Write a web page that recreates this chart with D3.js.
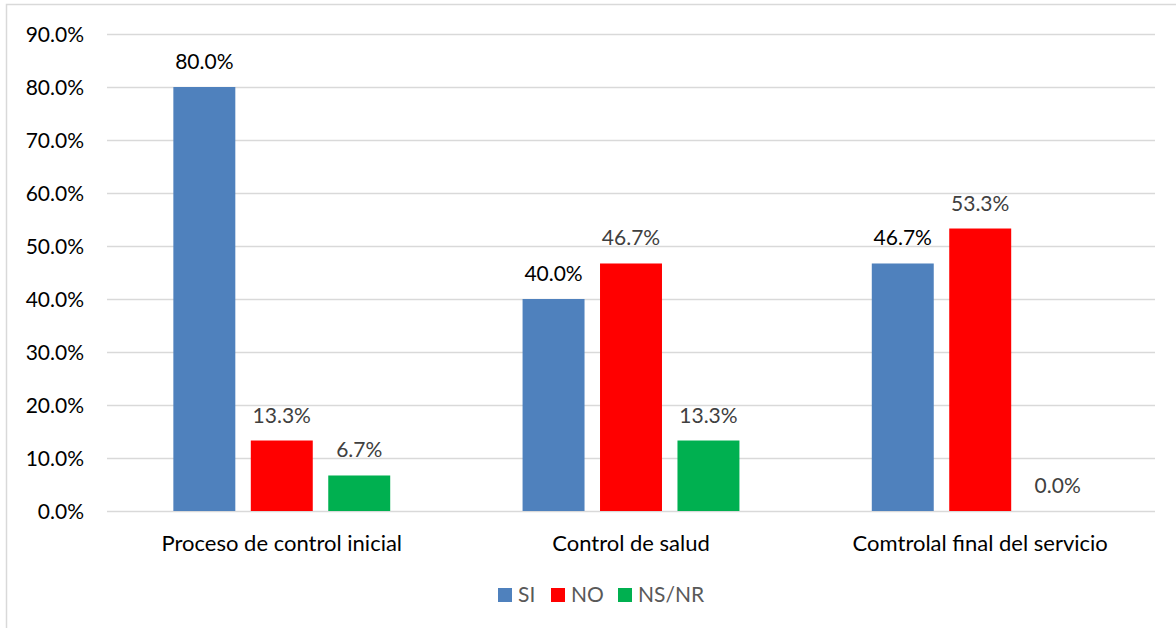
<!DOCTYPE html>
<html lang="es">
<head>
<meta charset="utf-8">
<title>chart</title>
<script src="https://d3js.org/d3.v7.min.js"></script>
<style>
  body{margin:0;background:#fff;font-family:Lato, "Open Sans", sans-serif;}
  svg{display:block;}
</style>
</head>
<body>
<div id="chart"></div>
<script>
// data
var categories = ["Proceso de control inicial", "Control de salud", "Comtrolal final del servicio"]
var series = ["SI", "NO", "NS/NR"]
var siValues = [80.0, 40.0, 46.7]
var noValues = [13.3, 46.7, 53.3]
var nsnrValues = [6.7, 13.3, 0.0]
var yTicks = [0, 10, 20, 30, 40, 50, 60, 70, 80, 90]
var colors = ["#4f81bd", "#ff0000", "#00b050"]
var labelColors = ["#000000", "#404040", "#404040"]

var w = 1176, h = 628
var plotLeft = 107, plotRight = 1155, plotTop = 34, plotBottom = 511
var fs = 21

var svg = d3.select("#chart").append("svg").attr("width", w).attr("height", h)

// outer chart border
svg.append("rect").attr("x", 6.5).attr("y", 4.5).attr("width", 1300).attr("height", 800)
  .attr("fill", "#fff").attr("stroke", "#d9d9d9").attr("stroke-width", 1.5)

var yScale = d3.scaleLinear().domain([0, 90]).range([plotBottom, plotTop])
var x0 = d3.scaleBand().domain(categories).range([plotLeft, plotRight]).paddingInner(0.379).paddingOuter(0.19)
var x1 = d3.scaleBand().domain(series).range([0, x0.bandwidth()]).paddingInner(0.2).paddingOuter(0)

// gridlines
svg.append("g").selectAll("line").data(yTicks).enter().append("line")
  .attr("x1", plotLeft).attr("x2", plotRight)
  .attr("y1", function(d){ return Math.round(yScale(d)) + 0.5 })
  .attr("y2", function(d){ return Math.round(yScale(d)) + 0.5 })
  .attr("stroke", "#d9d9d9").attr("stroke-width", 1.3)

// y tick labels
svg.append("g").selectAll("text").data(yTicks).enter().append("text")
  .attr("x", 84).attr("y", function(d){ return yScale(d) + 7.5 })
  .attr("text-anchor", "end").attr("font-size", fs).attr("fill", "#000")
  .text(function(d){ return d.toFixed(1) + "%" })

var rows = []
categories.forEach(function(c, i){
  rows.push({cat: c, s: 0, v: siValues[i]})
  rows.push({cat: c, s: 1, v: noValues[i]})
  rows.push({cat: c, s: 2, v: nsnrValues[i]})
})

svg.append("g").selectAll("rect").data(rows).enter().append("rect")
  .attr("x", function(d){ return x0(d.cat) + x1(series[d.s]) })
  .attr("y", function(d){ return yScale(d.v) })
  .attr("width", x1.bandwidth())
  .attr("height", function(d){ return plotBottom - yScale(d.v) })
  .attr("fill", function(d){ return colors[d.s] })

// value labels
svg.append("g").selectAll("text").data(rows).enter().append("text")
  .attr("x", function(d){ return x0(d.cat) + x1(series[d.s]) + x1.bandwidth() / 2 })
  .attr("y", function(d){ return yScale(d.v) - 18 })
  .attr("text-anchor", "middle").attr("font-size", fs)
  .attr("fill", function(d){ return labelColors[d.s] })
  .text(function(d){ return d.v.toFixed(1) + "%" })

// category labels
svg.append("g").selectAll("text").data(categories).enter().append("text")
  .attr("x", function(d){ return x0(d) + x0.bandwidth() / 2 })
  .attr("y", 551)
  .attr("text-anchor", "middle").attr("font-size", 22).attr("fill", "#000")
  .text(function(d){ return d })

// legend
var legendX = [498, 551, 618]
var legend = svg.append("g").selectAll("g").data(series).enter().append("g")
  .attr("transform", function(d, i){ return "translate(" + legendX[i] + ",588)" })
legend.append("rect").attr("width", 14).attr("height", 14)
  .attr("fill", function(d, i){ return colors[i] })
legend.append("text").attr("x", 20).attr("y", 14).attr("font-size", fs).attr("fill", "#595959")
  .text(function(d){ return d })
</script>
</body>
</html>
